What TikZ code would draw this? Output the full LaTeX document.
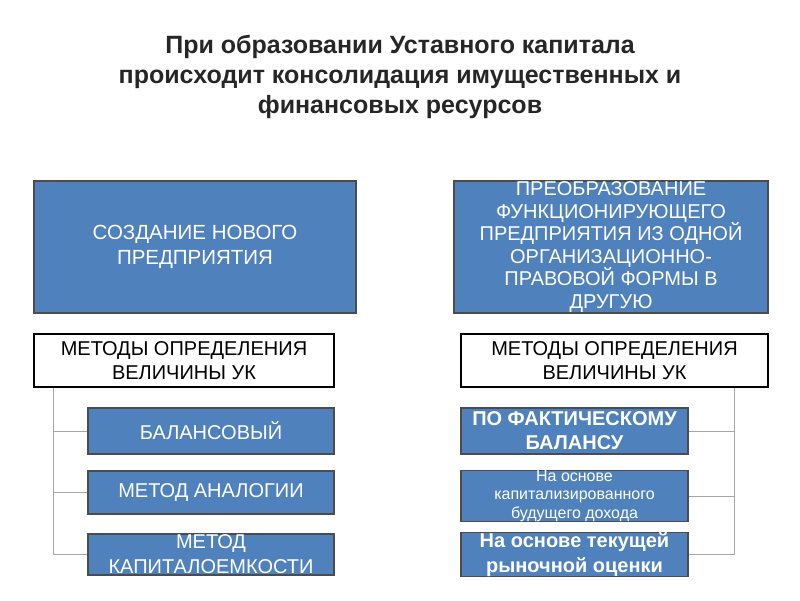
\documentclass[tikz,border=0pt]{standalone}
\usepackage{fontspec}
\setmainfont{Liberation Sans}
\begin{document}
\begin{tikzpicture}[x=1pt,y=-1pt,
 bx/.style={draw=black!70,fill={rgb,255:red,79;green,129;blue,189},line width=1.2pt,text=white,align=center,inner sep=0pt},
 wb/.style={draw=black,fill=white,line width=1.6pt,align=center,inner sep=0pt},
 ln/.style={draw=gray!70,line width=0.7pt}]
\useasboundingbox (0,0) rectangle (800,600);
\node[font=\bfseries\fontsize{25}{30}\selectfont,align=center,text=black!85] (t) at (400,77) {При образовании Уставного капитала\\происходит консолидация имущественных и\\финансовых ресурсов};
\node[bx,minimum width=322,minimum height=132,font=\fontsize{20.5}{25}\selectfont] (a) at (195,247) {СОЗДАНИЕ НОВОГО\\ПРЕДПРИЯТИЯ};
\node[bx,minimum width=314,minimum height=132,font=\fontsize{20}{22.5}\selectfont] (b) at (611,247) {ПРЕОБРАЗОВАНИЕ\\ФУНКЦИОНИРУЮЩЕГО\\ПРЕДПРИЯТИЯ ИЗ ОДНОЙ\\ОРГАНИЗАЦИОННО-\\ПРАВОВОЙ ФОРМЫ В\\ДРУГУЮ};
\node[wb,minimum width=300,minimum height=53,font=\fontsize{20}{24}\selectfont] (lm) at (184,360.5) {МЕТОДЫ ОПРЕДЕЛЕНИЯ\\ВЕЛИЧИНЫ УК};
\node[wb,minimum width=307,minimum height=53,font=\fontsize{20}{24}\selectfont] (rm) at (614.5,360.5) {МЕТОДЫ ОПРЕДЕЛЕНИЯ\\ВЕЛИЧИНЫ УК};
\node[bx,minimum width=246,minimum height=46,font=\fontsize{20}{24}\selectfont] (l1) at (211,431) {БАЛАНСОВЫЙ};
\node[bx,minimum width=246,minimum height=43,font=\fontsize{20}{24}\selectfont] (l2) at (211,492.5) {МЕТОД АНАЛОГИИ};
\node[bx,minimum width=246,minimum height=41,font=\fontsize{20}{25}\selectfont] (l3) at (211,554.5) {МЕТОД\\КАПИТАЛОЕМКОСТИ};
\node[bx,minimum width=227,minimum height=46,font=\bfseries\fontsize{20}{24}\selectfont] (r1) at (574.5,431) {ПО ФАКТИЧЕСКОМУ\\БАЛАНСУ};
\node[bx,minimum width=227,minimum height=50,font=\fontsize{16}{18.5}\selectfont] (r2) at (574.5,496) {На основе\\капитализированного\\будущего дохода};
\node[bx,minimum width=227,minimum height=41,font=\bfseries\fontsize{20}{25}\selectfont] (r3) at (574.5,554.5) {На основе текущей\\рыночной оценки};
\coordinate (lt) at (53,388);
\coordinate (rt) at (734,388);
\draw[ln] (lt) |- (l3.west) (lt|-l1.west) -- (l1.west) (lt|-l2.west) -- (l2.west);
\draw[ln] (rt) |- (r3.east) (rt|-r1.east) -- (r1.east) (rt|-r2.east) -- (r2.east);
\end{tikzpicture}
\end{document}
